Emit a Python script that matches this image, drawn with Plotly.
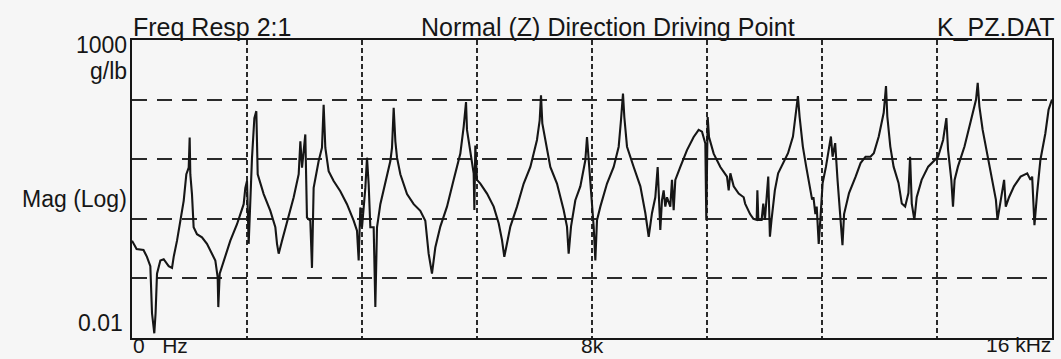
import plotly.graph_objects as go

# ---- data (frequency in Hz, magnitude in g/lb) ----
freq_low = [0, 80, 200, 260, 319, 348, 388, 410, 435, 493,
            551, 638, 696, 725, 783, 841, 899, 945, 986, 1003,
            1014, 1043, 1072, 1130, 1217, 1304, 1391, 1449, 1490, 1501,
            1525, 1594, 1710, 1826, 1942, 1971, 2000, 2029, 2058, 2087,
            2128, 2162, 2186, 2232, 2290, 2406, 2493, 2522, 2551, 2609,
            2696, 2812, 2899, 2928, 2957, 2986, 3014, 3043, 3101, 3130,
            3159, 3246, 3304, 3333, 3362, 3420, 3507, 3623, 3739, 3855,
            3913, 3942, 3971, 4000, 4058, 4087, 4116, 4145, 4203, 4232,
            4261, 4319, 4406, 4493, 4522, 4551, 4580, 4609, 4667, 4783,
            4899, 5014, 5101, 5159, 5217, 5275, 5362]
mag_low = [0.43, 0.31, 0.30, 0.23, 0.16, 0.026, 0.012, 0.026, 0.12, 0.20,
           0.21, 0.16, 0.15, 0.23, 0.43, 0.93, 2.0, 5.6, 7.2, 23,
           5.6, 2.6, 0.72, 0.55, 0.49, 0.38, 0.26, 0.20, 0.104, 0.033,
           0.12, 0.20, 0.43, 0.81, 1.76, 3.3, 4.3, 0.38, 2.9, 10.6,
           49, 64, 5.6, 3.8, 2.6, 1.36, 0.72, 0.38, 0.26, 0.43,
           0.87, 2.3, 5.6, 20, 7.2, 13.7, 26, 1.05, 0.93, 0.15,
           3.3, 9.3, 15.6, 82, 15.6, 6.3, 4.3, 2.9, 1.76, 0.93,
           0.63, 0.20, 1.55, 0.72, 3.3, 10.6, 3.8, 0.72, 0.72, 0.033,
           0.72, 1.76, 4.3, 9.3, 15.6, 73, 20, 10.6, 5.6, 2.6,
           1.76, 1.36, 0.93, 0.26, 0.12, 0.33, 0.74]

freq_mid = [5478, 5594, 5710, 5768, 5809, 5826, 5884, 5942, 5954, 5971,
            6000, 6058, 6174, 6290, 6377, 6435, 6475, 6522, 6580, 6696,
            6812, 6928, 7043, 7090, 7113, 7136, 7188, 7275, 7391, 7507,
            7565, 7594, 7635, 7710, 7797, 7884, 7913, 7942, 7971, 8000,
            8029, 8058, 8087, 8145, 8261, 8377, 8464, 8504, 8539, 8562,
            8609, 8725, 8841, 8928, 8986, 9043, 9101, 9142, 9159, 9188,
            9217, 9246, 9275, 9304, 9362, 9391, 9420, 9449, 9536, 9652,
            9768, 9855, 9913, 9971, 9988, 10012, 10035, 10116, 10232, 10348,
            10377, 10406, 10464, 10551, 10638]
mag_mid = [1.6, 4.5, 12.4, 35, 91, 31, 12.4, 5.8, 1.4, 17,
           4.5, 3.9, 2.65, 1.6, 0.84, 0.44, 0.23, 0.39, 0.74, 1.6,
           3.9, 7.4, 21, 45, 118, 40, 21, 7.4, 3.9, 1.4,
           0.74, 0.26, 0.74, 2.05, 3.5, 9.6, 23.6, 9.6, 4.5, 1.6,
           0.74, 0.20, 0.95, 1.6, 3.9, 7.4, 16.2, 45, 126, 51,
           16.2, 7.4, 3.5, 1.24, 0.50, 1.24, 2.3, 7.4, 2.3, 0.65,
           2.05, 3.0, 1.6, 2.3, 1.6, 4.5, 1.4, 4.5, 7.4, 14.2,
           23.6, 31, 29, 18.3, 0.95, 51, 23.6, 12.4, 7.4, 5.1,
           3.0, 5.8, 3.5, 2.65, 2.3]

freq_high = [10663, 10749, 10807, 10864, 10876, 10893, 10950, 10979, 11007, 11065,
             11094, 11122, 11180, 11237, 11323, 11409, 11495, 11552, 11581, 11610,
             11667, 11725, 11782, 11828, 11851, 11885, 11908, 11943, 11971, 12011,
             12069, 12115, 12155, 12184, 12229, 12270, 12298, 12327, 12356, 12384,
             12470, 12585, 12671, 12757, 12843, 12901, 12987, 13073, 13113, 13136,
             13188, 13245, 13331, 13388, 13446, 13503, 13532, 13561, 13606, 13647,
             13733, 13847, 13962, 14019, 14106, 14163, 14192, 14249, 14278, 14306,
             14364, 14478, 14593, 14679, 14708, 14737, 14794, 14880, 14966, 15024,
             15052, 15110, 15167, 15196, 15253, 15339, 15454, 15569, 15626, 15655,
             15695, 15741, 15798, 15884, 15941, 16000]
mag_high = [1.8, 1.2, 1.0, 0.96, 3.0, 0.96, 0.96, 1.8, 0.96, 5.1,
            0.50, 0.96, 3.0, 5.8, 8.6, 12.6, 24, 68, 114, 52,
            16.3, 7.5, 4.0, 2.1, 2.3, 1.2, 1.6, 0.38, 0.96, 4.0,
            7.5, 14.4, 24, 11.0, 18.6, 4.5, 2.1, 0.96, 0.36, 1.2,
            2.7, 5.1, 8.6, 11.0, 11.0, 12.6, 24, 60, 168, 52,
            16.3, 7.5, 4.0, 1.8, 1.6, 2.7, 11.0, 1.8, 0.96, 2.3,
            4.5, 7.5, 9.7, 11.0, 21, 49, 14.4, 4.5, 1.6, 4.5,
            7.5, 16.3, 46, 100, 191, 77, 31, 11.0, 4.5, 2.1,
            0.96, 2.1, 4.5, 1.6, 2.3, 3.5, 5.1, 5.8, 4.5, 5.1,
            0.78, 2.7, 9.7, 27, 68, 100]

# ---- text ----
header_left = "Freq Resp 2:1"
header_mid = "Normal (Z) Direction Driving Point"
header_right = "K_PZ.DAT"
y_top_label = "1000"
y_unit_label = "g/lb"
y_title = "Mag (Log)"
y_bottom_label = "0.01"
x_labels = ["0\u00a0\u00a0\u00a0Hz", "8k", "16 kHz"]
x_label_pos = [0, 8000, 16000]

freq = freq_low + freq_mid + freq_high
mag = mag_low + mag_mid + mag_high

INK = "#161616"
PAPER = "#f6f6f6"
FONT = "Liberation Sans, Arial, sans-serif"

fig = go.Figure()
fig.add_trace(go.Scatter(x=freq, y=mag, mode="lines",
                         line=dict(color=INK, width=2.1), hoverinfo="skip",
                         showlegend=False))

fig.update_layout(
    width=1061, height=359,
    margin=dict(l=132, r=7, t=40, b=21),
    paper_bgcolor=PAPER, plot_bgcolor=PAPER,
    font=dict(family=FONT, color=INK),
    showlegend=False,
)
fig.update_xaxes(range=[0, 16000], dtick=2000, tick0=0,
                 showticklabels=False, ticks="",
                 showgrid=True, gridcolor="#2a2a2a", gridwidth=1.5, griddash="5px,3px",
                 showline=True, linecolor=INK, linewidth=2, mirror=True,
                 zeroline=False)
fig.update_yaxes(type="log", range=[-2, 3], dtick=1,
                 showticklabels=False, ticks="",
                 showgrid=True, gridcolor="#2a2a2a", gridwidth=1.5, griddash="15px,10px",
                 showline=True, linecolor=INK, linewidth=2, mirror=True,
                 zeroline=False)

title_font = dict(family=FONT, size=25, color=INK)
lab_font = dict(family=FONT, size=23, color=INK)
xlab_font = dict(family=FONT, size=21, color=INK)

def ann(text, x, y, xanchor, yanchor, font, xref="paper", yref="paper"):
    fig.add_annotation(text=text, x=x, y=y, xref=xref, yref=yref,
                       xanchor=xanchor, yanchor=yanchor, showarrow=False,
                       font=font, borderpad=0)

ann(header_left, 0.0, 1.045, "left", "middle", title_font)
ann(header_mid, 0.517, 1.045, "center", "middle", title_font)
ann(header_right, 1.004, 1.045, "right", "middle", title_font)

ann(y_top_label, -0.004, 0.982, "right", "middle", lab_font)
ann(y_unit_label, -0.004, 0.897, "right", "middle", lab_font)
ann(y_title, -0.004, 0.468, "right", "middle", lab_font)
ann(y_bottom_label, -0.009, 0.050, "right", "middle", lab_font)

ann(x_labels[0], x_label_pos[0], 0.016, "left", "top", xlab_font, xref="x")
ann(x_labels[1], x_label_pos[1], 0.016, "center", "top", xlab_font, xref="x")
ann(x_labels[2], x_label_pos[2], 0.02, "right", "top", xlab_font, xref="x")

fig.write_html("out.html")
